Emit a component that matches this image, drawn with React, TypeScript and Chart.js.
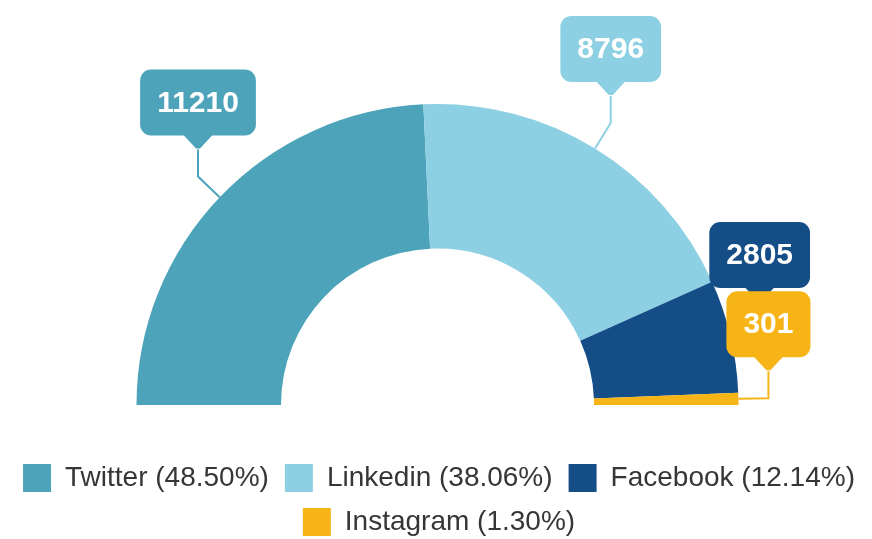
import { useEffect, useRef } from "react";
import { Chart, registerables } from "chart.js";

Chart.register(...registerables);

const categories = ["Twitter", "Linkedin", "Facebook", "Instagram"];
const values = [11210, 8796, 2805, 301];
const colors = ["#4da3b9", "#8ed0e3", "#154d86", "#f6b416"];

const FONT = '"Liberation Sans", Arial, Helvetica, sans-serif';

const calloutPlugin = {
  id: "callouts",
  afterDatasetsDraw(chart: any) {
    const ctx: CanvasRenderingContext2D = chart.ctx;
    const meta = chart.getDatasetMeta(0);
    ctx.save();
    ctx.font = `bold 30px ${FONT}`;
    meta.data.forEach((arc: any, i: number) => {
      const { x, y, startAngle, endAngle, outerRadius } = arc.getProps(
        ["x", "y", "startAngle", "endAngle", "outerRadius"],
        true
      );
      const mid = (startAngle + endAngle) / 2;
      const c = Math.cos(mid);
      const s = Math.sin(mid);
      const ax = x + c * outerRadius;
      const ay = y + s * outerRadius;
      const ex = ax + c * 30;
      const ey = ay + s * 30;
      const tx = ex;
      const ty = ey - 27;
      const color = colors[i];
      ctx.strokeStyle = color;
      ctx.lineWidth = 2;
      ctx.beginPath();
      ctx.moveTo(ax, ay);
      ctx.lineTo(ex, ey);
      ctx.lineTo(tx, ty);
      ctx.stroke();

      const text = String(values[i]);
      const tw = ctx.measureText(text).width;
      const w = tw + 34;
      const h = 66;
      const bottom = ty - 14;
      const left = tx - w / 2;
      const top = bottom - h;
      ctx.fillStyle = color;
      ctx.beginPath();
      if ((ctx as any).roundRect) {
        (ctx as any).roundRect(left, top, w, h, 11);
      } else {
        ctx.rect(left, top, w, h);
      }
      ctx.fill();
      ctx.beginPath();
      ctx.moveTo(tx - 15, bottom - 1);
      ctx.lineTo(tx + 15, bottom - 1);
      ctx.lineTo(tx + 2, ty - 1);
      ctx.lineTo(tx - 2, ty - 1);
      ctx.closePath();
      ctx.fill();
      ctx.fillStyle = "#ffffff";
      ctx.textAlign = "center";
      ctx.textBaseline = "middle";
      ctx.fillText(text, tx, top + h / 2 + 1);
    });
    ctx.restore();
  },
};

export default function App() {
  const canvasRef = useRef<HTMLCanvasElement | null>(null);

  useEffect(() => {
    document.body.style.margin = "0";
    const canvas = canvasRef.current;
    if (!canvas) return;
    const total = values.reduce((a, b) => a + b, 0);
    const chart = new Chart(canvas, {
      type: "doughnut",
      data: {
        labels: categories,
        datasets: [
          {
            data: values,
            backgroundColor: colors,
            borderWidth: 0,
            hoverOffset: 0,
            rotation: -90,
            circumference: 180,
            cutout: "52%",
            radius: 301,
          } as any,
        ],
      },
      options: {
        animation: false,
        responsive: true,
        maintainAspectRatio: false,
        events: [],
        layout: { padding: { left: 3, right: -3, top: 61, bottom: -7 } },
        plugins: {
          tooltip: { enabled: false },
          legend: {
            position: "bottom",
            labels: {
              boxWidth: 28,
              boxHeight: 28,
              padding: 16,
              color: "#363636",
              font: { size: 28, family: FONT },
              generateLabels: (ch: any) => {
                const base = (Chart as any).overrides.doughnut.plugins.legend.labels.generateLabels(ch);
                return base.map((it: any, i: number) => ({
                  ...it,
                  lineWidth: 0,
                  text: `${categories[i]} (${((values[i] / total) * 100).toFixed(2)}%)`,
                }));
              },
            },
          },
        },
      } as any,
      plugins: [calloutPlugin],
    });
    return () => chart.destroy();
  }, []);

  return (
    <div style={{ position: "relative", width: "872px", height: "539px" }}>
      <canvas ref={canvasRef} />
    </div>
  );
}
